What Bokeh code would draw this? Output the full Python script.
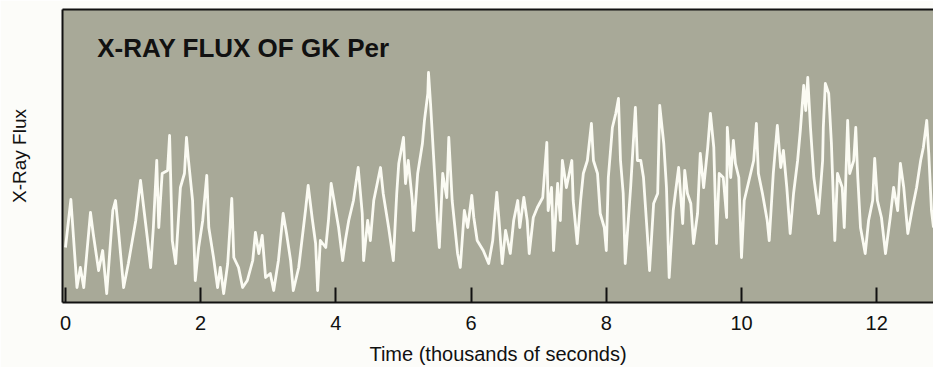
from bokeh.plotting import figure
from bokeh.models import Range1d, FixedTicker, Label, LinearAxis
from bokeh.embed import file_html
from bokeh.resources import INLINE

# Time in thousands of seconds, flux in arbitrary units
time_ks = [
    0.00, 0.08, 0.17, 0.22, 0.27, 0.37, 0.41, 0.49, 0.55, 0.61, 0.70, 0.74, 0.78, 0.86, 0.93,
    1.04, 1.11, 1.15, 1.21, 1.26, 1.30, 1.35, 1.38, 1.43, 1.51, 1.54, 1.58, 1.63, 1.70, 1.76,
    1.79, 1.82, 1.88, 1.92, 1.97, 2.03, 2.09, 2.12, 2.19, 2.25, 2.29, 2.34, 2.40, 2.46, 2.49,
    2.56, 2.62, 2.69, 2.77, 2.81, 2.86, 2.91, 2.96, 3.03, 3.08, 3.15, 3.22, 3.27, 3.33, 3.37,
    3.45, 3.55, 3.59, 3.65, 3.70, 3.73, 3.77, 3.85, 3.89, 3.93, 3.99, 4.04, 4.10, 4.14, 4.19,
    4.26, 4.33, 4.39, 4.41, 4.47, 4.51, 4.56, 4.66, 4.70, 4.78, 4.85, 4.90, 4.93, 5.00, 5.03,
    5.07, 5.13, 5.15, 5.21, 5.28, 5.31, 5.36, 5.37, 5.40, 5.44, 5.50, 5.53, 5.58, 5.64, 5.67,
    5.72, 5.80, 5.84, 5.90, 5.95, 6.01, 6.04, 6.09, 6.18, 6.26, 6.32, 6.38, 6.41, 6.46, 6.51,
    6.58, 6.63, 6.69, 6.72, 6.78, 6.83, 6.86, 6.92, 6.98, 7.06, 7.12, 7.14, 7.19, 7.22, 7.28,
    7.32, 7.35, 7.41, 7.49, 7.51, 7.57, 7.62, 7.66, 7.72, 7.78, 7.81, 7.87, 7.91, 7.97, 8.00,
    8.03, 8.09, 8.14, 8.18, 8.21, 8.25, 8.28, 8.36, 8.43, 8.46, 8.51, 8.55, 8.61, 8.64, 8.70,
    8.76, 8.79, 8.85, 8.89, 8.93, 8.99, 9.07, 9.13, 9.16, 9.20, 9.25, 9.29, 9.35, 9.39, 9.44,
    9.50, 9.54, 9.59, 9.63, 9.67, 9.73, 9.78, 9.79, 9.84, 9.88, 9.91, 9.96, 10.00, 10.04, 10.10,
    10.18, 10.22, 10.25, 10.31, 10.38, 10.41, 10.47, 10.53, 10.58, 10.62, 10.67, 10.72, 10.77, 10.83, 10.87,
    10.92, 10.95, 10.98, 11.02, 11.07, 11.14, 11.20, 11.21, 11.24, 11.29, 11.33, 11.38, 11.42, 11.49, 11.52,
    11.57, 11.60, 11.66, 11.69, 11.72, 11.76, 11.83, 11.88, 11.94, 11.97, 12.01, 12.07, 12.13, 12.20, 12.25,
    12.31, 12.35, 12.40, 12.46, 12.53, 12.59, 12.65, 12.69, 12.74, 12.77, 12.81, 12.84,
]
flux = [
    55, 103, 15, 35, 15, 90, 69, 32, 52, 9, 92, 102, 75, 15, 39,
    82, 122, 99, 65, 35, 75, 142, 75, 129, 132, 167, 62, 39, 115, 129,
    165, 142, 102, 22, 55, 82, 127, 75, 45, 15, 35, 9, 39, 104, 45,
    35, 15, 22, 42, 70, 49, 67, 25, 29, 12, 42, 89, 69, 42, 12,
    35, 92, 117, 84, 59, 12, 62, 55, 82, 119, 95, 75, 42, 62, 82,
    102, 135, 89, 42, 82, 62, 102, 135, 109, 75, 42, 109, 139, 165, 119,
    142, 102, 72, 129, 159, 182, 209, 230, 199, 152, 82, 55, 129, 105, 165,
    102, 49, 35, 92, 75, 107, 85, 62, 52, 39, 62, 110, 85, 39, 72,
    49, 82, 102, 75, 105, 82, 49, 85, 95, 105, 160, 92, 115, 52, 119,
    82, 142, 115, 142, 102, 59, 102, 129, 142, 179, 142, 129, 89, 75, 52,
    125, 175, 189, 204, 142, 109, 39, 115, 195, 142, 142, 125, 65, 32, 99,
    109, 197, 159, 115, 25, 92, 135, 79, 132, 109, 99, 59, 89, 149, 115,
    155, 189, 155, 59, 129, 125, 85, 175, 125, 162, 139, 125, 45, 102, 119,
    142, 179, 129, 109, 82, 62, 129, 177, 135, 152, 115, 69, 109, 142, 172,
    217, 192, 225, 175, 125, 89, 142, 175, 219, 209, 159, 62, 129, 115, 75,
    182, 129, 142, 175, 125, 75, 49, 82, 102, 144, 102, 85, 49, 85, 115,
    92, 139, 115, 69, 95, 115, 142, 155, 182, 149, 92, 75,
]
x_ticks = [0, 2, 4, 6, 8, 10, 12]
title_text = "X-RAY FLUX OF GK Per"
x_label = "Time (thousands of seconds)"
y_label = "X-Ray Flux"

FONT = "Liberation Sans"

p = figure(
    width=933, height=367, output_backend="svg", toolbar_location=None,
    x_range=Range1d(-0.044, 12.84), y_range=Range1d(0, 293),
    min_border_left=62, min_border_right=0, min_border_top=9, min_border_bottom=65,
    background_fill_color="#a8a998", border_fill_color="#fcfcf9",
    outline_line_color=None, x_axis_location="below", y_axis_location="left",
)
p.grid.visible = False

p.line(time_ks, flux, line_color="#fbfbf3", line_width=2.8, line_join="round")

# x axis
xa = p.xaxis[0]
xa.ticker = FixedTicker(ticks=x_ticks)
xa.major_tick_in = 15
xa.major_tick_out = 0
xa.major_tick_line_width = 2
xa.major_tick_line_color = "#111111"
xa.minor_tick_line_color = None
xa.axis_line_width = 2
xa.axis_line_color = "#111111"
xa.major_label_text_font = FONT
xa.major_label_text_font_size = "20px"
xa.major_label_text_color = "#111111"
xa.major_label_standoff = 13
xa.axis_label = x_label
xa.axis_label_text_font = FONT
xa.axis_label_text_font_size = "20px"
xa.axis_label_text_font_style = "normal"
xa.axis_label_text_color = "#111111"
xa.axis_label_standoff = 10

# y axis
ya = p.yaxis[0]
ya.ticker = FixedTicker(ticks=[])
ya.major_tick_line_color = None
ya.minor_tick_line_color = None
ya.axis_line_width = 2
ya.axis_line_color = "#111111"
ya.axis_label = y_label
ya.axis_label_text_font = FONT
ya.axis_label_text_font_size = "19px"
ya.axis_label_text_font_style = "normal"
ya.axis_label_text_color = "#111111"
ya.axis_label_standoff = 33

# top border
top = LinearAxis(ticker=FixedTicker(ticks=[]), major_tick_line_color=None,
                 minor_tick_line_color=None, axis_line_width=2, axis_line_color="#111111",
                 major_label_text_font_size="0px")
p.add_layout(top, "above")

p.add_layout(Label(x=0.47, y=255, text=title_text, text_font=FONT, text_font_size="26px",
                   text_font_style="bold", text_color="#111111", text_baseline="alphabetic"))

open("out.html", "w").write(file_html(p, INLINE))
